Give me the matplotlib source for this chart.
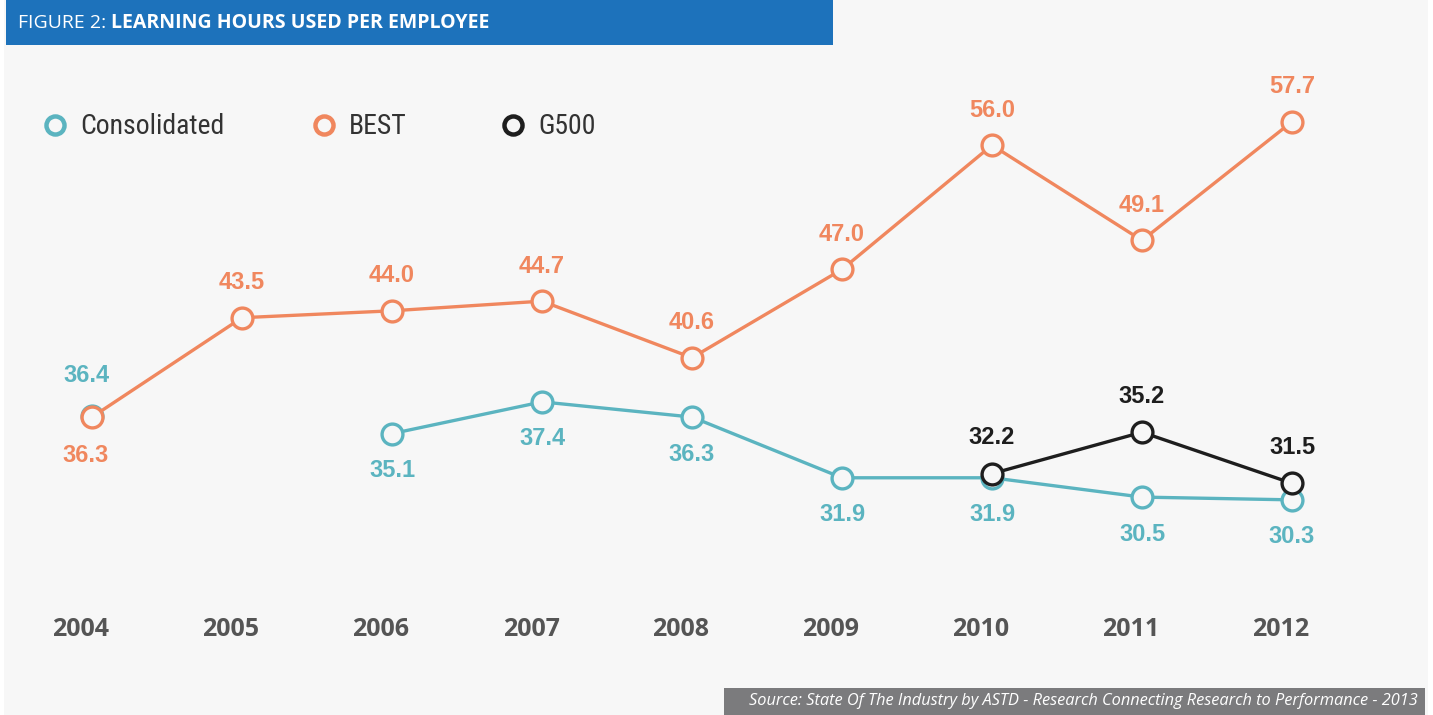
import matplotlib
matplotlib.use("Agg")
import matplotlib.pyplot as plt
import matplotlib.transforms as mtransforms
from matplotlib import font_manager
from matplotlib.patches import Rectangle
import numpy as np

# ---------------- data ----------------
years = ["2004", "2005", "2006", "2007", "2008", "2009", "2010", "2011", "2012"]
consolidated = [36.4, np.nan, 35.1, 37.4, 36.3, 31.9, 31.9, 30.5, 30.3]
best = [36.3, 43.5, 44.0, 44.7, 40.6, 47.0, 56.0, 49.1, 57.7]
g500 = [np.nan, np.nan, np.nan, np.nan, np.nan, np.nan, 32.2, 35.2, 31.5]
series_names = ["Consolidated", "BEST", "G500"]
title_prefix = "FIGURE 2: "
title_main = "LEARNING HOURS USED PER EMPLOYEE"
source_text = "Source: State Of The Industry by ASTD - Research Connecting Research to Performance - 2013"

# label placement: +1 above marker, -1 below
cons_pos = [1, 0, -1, -1, -1, -1, -1, -1, -1]
best_pos = [-1, 1, 1, 1, 1, 1, 1, 1, 1]
g500_pos = [0, 0, 0, 0, 0, 0, 1, 1, 1]

TEAL = "#5bb4c0"
ORANGE = "#f0875e"
BLACK = "#1e1e1e"
PANEL = "#f7f7f7"
BLUE = "#1d72bb"
YEARGRAY = "#555555"

available = {f.name for f in font_manager.fontManager.ttflist}
def pick(*names):
    for n in names:
        if n in available:
            return n
    return "DejaVu Sans"

F_NARROW = pick("Liberation Sans Narrow", "Roboto Condensed", "Roboto")
F_TITLE = pick("Open Sans", "Noto Sans")
F_VALUE = pick("Liberation Sans", "Arial", "DejaVu Sans")

W, H = 1433, 715
fig = plt.figure(figsize=(W / 100, H / 100), dpi=100)
fig.patch.set_facecolor("white")

# background panel
fig.patches.append(Rectangle((4 / W, 0), (1428 - 4) / W, 1, transform=fig.transFigure,
                             facecolor=PANEL, edgecolor="none", zorder=-3))
# title bar
fig.patches.append(Rectangle((6 / W, 1 - 45 / H), (833 - 6) / W, 45 / H, transform=fig.transFigure,
                             facecolor=BLUE, edgecolor="none", zorder=-2))
# source box
fig.patches.append(Rectangle((724 / W, 0), (1425 - 724) / W, (715 - 688) / H, transform=fig.transFigure,
                             facecolor="#7b7b7d", edgecolor="none", zorder=-2))

ax = fig.add_axes([0, 0, 1, 1])
ax.set_facecolor("none")
ax.axis("off")
# pixel mapping: x_px = 92 + 150*i ; y_px(top) = 918 - 13.8*v
x0, dx = 92, 150
y0, dy = 918, 13.8
ax.set_xlim(-x0 / dx, (W - x0) / dx)
ax.set_ylim((y0 - H) / dy, y0 / dy)

xs = np.arange(len(years))
lw = 2.4
ms = 15
mew = 2.4
ax.plot(xs, consolidated, color=TEAL, lw=lw, marker="o", ms=ms, mfc=PANEL, mec=TEAL, mew=mew, zorder=3)
ax.plot(xs, best, color=ORANGE, lw=lw, marker="o", ms=ms, mfc=PANEL, mec=ORANGE, mew=mew, zorder=4)
ax.plot(xs, g500, color=BLACK, lw=lw, marker="o", ms=ms, mfc=PANEL, mec=BLACK, mew=mew, zorder=5)

def labels(vals, pos, color, up_off=36, down_off=38):
    for i, (v, p) in enumerate(zip(vals, pos)):
        if p == 0 or np.isnan(v):
            continue
        off = up_off if p > 0 else -down_off
        tr = mtransforms.offset_copy(ax.transData, fig=fig, x=-6 * 0.72 if i == 0 else 0, y=off * 0.72, units="points")
        ax.text(i, v, f"{v:.1f}", transform=tr, ha="center", va="center", color=color,
                fontsize=17, fontweight="bold", family=F_VALUE, zorder=6)

labels(consolidated, cons_pos, TEAL, up_off=40, down_off=37)
labels(best, best_pos, ORANGE, up_off=35, down_off=38)
labels(g500, g500_pos, BLACK, up_off=36, down_off=35)

# year labels
ylab = (y0 - 629) / dy
for i, yr in enumerate(years):
    tr = mtransforms.offset_copy(ax.transData, fig=fig, x=-11 * 0.72, y=0, units="points")
    ax.text(i, ylab, yr, transform=tr, ha="center", va="center", color=YEARGRAY,
            fontsize=18, fontweight="bold", family=F_TITLE)

# legend
leg_items = [(55, series_names[0], TEAL), (324, series_names[1], ORANGE), (513, series_names[2], BLACK)]
for px, name, col in leg_items:
    fig.lines.append(plt.Line2D([px / W], [1 - 125 / H], transform=fig.transFigure, marker="o",
                                ms=13, mfc=PANEL, mec=col, mew=3.2, linestyle="none"))
    fig.text((px + 25) / W, 1 - 126 / H, name, ha="left", va="center", color="#333333",
             fontsize=20, family=F_NARROW)

# title
fig.canvas.draw()
r = fig.canvas.get_renderer()
t1 = fig.text(18 / W, 1 - 23 / H, title_prefix, ha="left", va="center", color="white",
              fontsize=14, family=F_TITLE)
bb = t1.get_window_extent(renderer=r)
fig.text(bb.x1 / W, 1 - 23 / H, title_main, ha="left", va="center", color="white",
         fontsize=14, fontweight="bold", family=F_TITLE)

# source
fig.text(1418 / W, 1 - 701 / H, source_text, ha="right", va="center", color="white",
         fontsize=11.8, style="italic", family=F_TITLE)

fig.savefig("out.png", dpi=100, facecolor=fig.get_facecolor())
